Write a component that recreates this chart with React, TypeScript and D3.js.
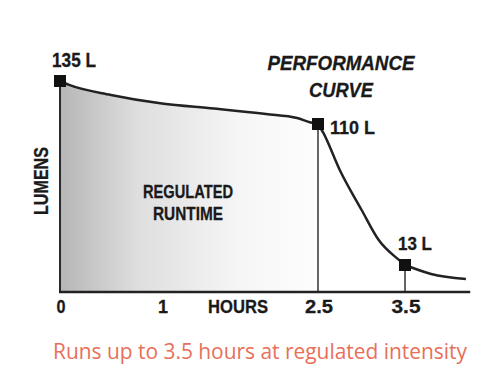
import React from "react";
import * as d3 from "d3";

const hours = [0, 0.09, 0.5, 1.0, 1.5, 2.0, 2.3, 2.42, 2.5, 2.56, 2.75, 3.0, 3.2, 3.43, 3.5, 3.8, 4.2];
const lumens = [135, 132.7, 126.9, 121.9, 119, 115.8, 113.5, 111, 110, 104, 78.4, 51, 30, 16.5, 13, 8.7, 6.3];
const markerHours = [0, 2.5, 3.5];
const markerLumens = [135, 110, 13];
const markerLabels = ["135 L", "110 L", "13 L"];
const tickValues = [0, 1, 2.5, 3.5];
const tickLabels = ["0", "1", "2.5", "3.5"];
const regulatedEnd = 2.5;
const title = ["PERFORMANCE", "CURVE"];
const areaLabel = ["REGULATED", "RUNTIME"];
const caption = "Runs up to 3.5 hours at regulated intensity";

const FONT = "'Liberation Sans', Arial, sans-serif";

function T(props: any) {
  const { w, children, ...rest } = props;
  return (
    <text {...rest} textLength={w} lengthAdjust="spacingAndGlyphs">
      {children}
    </text>
  );
}

export default function App() {
  const W = 500, H = 380;
  const x = d3.scaleLinear().domain([0, 1, 2.5, 3.5]).range([60, 162, 318, 405]);
  const y = d3.scaleLinear().domain([0, 13, 110, 135]).range([292, 265, 124, 81]);
  const pts = hours.map((h, i) => ({ h, l: lumens[i] }));
  const i25 = hours.indexOf(2.5);
  const i35 = hours.indexOf(3.5);
  const segs = [pts.slice(0, i25 + 1), pts.slice(i25, i35 + 1), pts.slice(i35)];
  const line = d3.line<{ h: number; l: number }>().x(d => x(d.h)).y(d => y(d.l)).curve(d3.curveMonotoneX);
  const area = d3.area<{ h: number; l: number }>().x(d => x(d.h)).y0(y(0)).y1(d => y(d.l)).curve(d3.curveMonotoneX);
  const base = y(0);
  const xEnd = x(4.25);
  const tickW = [9, 10, 28, 29];
  return (
    <svg width={W} height={H} style={{ position: "absolute", left: 0, top: 0, background: "#fff" }}>
      <defs>
        <linearGradient id="g" x1={x(0)} x2={x(regulatedEnd)} y1={0} y2={0} gradientUnits="userSpaceOnUse">
          <stop offset="0" stopColor="#b6b6b6" />
          <stop offset="0.3" stopColor="#dedede" />
          <stop offset="0.7" stopColor="#f6f6f6" />
          <stop offset="1" stopColor="#fdfdfd" />
        </linearGradient>
      </defs>
      <path d={area(segs[0]) || ""} fill="url(#g)" />
      <line x1={x(0)} x2={x(0)} y1={y(135)} y2={base} stroke="#2a2a2a" strokeWidth={2} />
      <line x1={x(2.5)} x2={x(2.5)} y1={y(110)} y2={base} stroke="#333" strokeWidth={1.5} />
      <line x1={x(3.5)} x2={x(3.5)} y1={y(13)} y2={base} stroke="#333" strokeWidth={1.5} />
      {segs.map((s, i) => (
        <path key={i} d={line(s) || ""} fill="none" stroke="#222" strokeWidth={2.5} />
      ))}
      <line x1={x(0) - 1} x2={xEnd} y1={base} y2={base} stroke="#222" strokeWidth={2.5} />
      {markerHours.map((h, i) => (
        <rect key={i} x={x(h) - 6} y={y(markerLumens[i]) - 6} width={12} height={12} fill="#111" />
      ))}
      <g fontFamily={FONT} fontWeight="bold" fill="#1a1a1a" stroke="#1a1a1a" strokeWidth={0.3}>
        <T x={52} y={67} fontSize={19.5} w={44}>{markerLabels[0]}</T>
        <T x={330} y={134} fontSize={18.5} w={45}>{markerLabels[1]}</T>
        <T x={398} y={250} fontSize={18.5} w={34}>{markerLabels[2]}</T>
        {tickValues.map((t, i) => (
          <T key={i} x={x(t) + 1} y={313} fontSize={19} textAnchor="middle" w={tickW[i]}>{tickLabels[i]}</T>
        ))}
        <T x={238} y={313} fontSize={19} textAnchor="middle" w={60}>HOURS</T>
        <T transform="translate(48,181) rotate(-90)" x={0} y={0} fontSize={20} textAnchor="middle" w={68}>LUMENS</T>
        <T x={188} y={198} fontSize={18} textAnchor="middle" w={90}>{areaLabel[0]}</T>
        <T x={188} y={220} fontSize={18} textAnchor="middle" w={70}>{areaLabel[1]}</T>
        <T x={341} y={70} fontSize={21} fontStyle="italic" textAnchor="middle" w={147}>{title[0]}</T>
        <T x={341} y={97} fontSize={21} fontStyle="italic" textAnchor="middle" w={64}>{title[1]}</T>
      </g>
      <T x={260} y={359} fontFamily="'Open Sans', sans-serif" fontSize={21.5} fill="#e86f5a" textAnchor="middle" w={414}>{caption}</T>
    </svg>
  );
}
